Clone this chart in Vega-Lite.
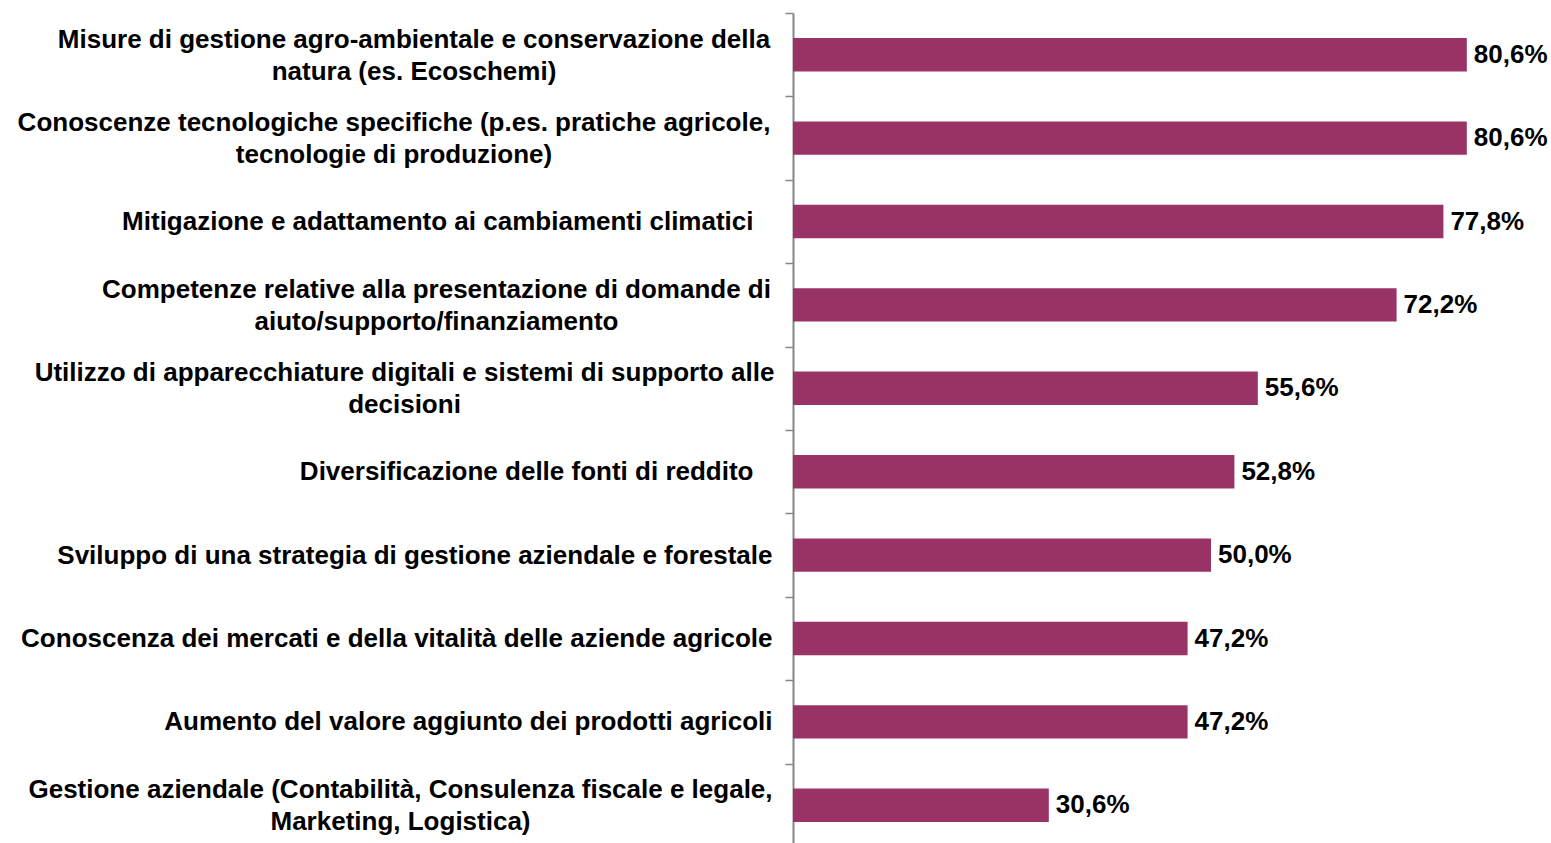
{
  "$schema": "https://vega.github.io/schema/vega-lite/v6.json",
  "autosize": "none",
  "padding": {"left": 793, "top": 13, "right": 0, "bottom": 0},
  "width": 758,
  "height": 830,
  "background": "white",
  "config": {
    "view": {"stroke": null},
    "locale": {"number": {"decimal": ",", "thousands": ".", "grouping": [3], "currency": ["€", ""]}}
  },
  "data": {
    "values": [
      {"voce": "Misure di gestione agro-ambientale e conservazione della\nnatura (es. Ecoschemi)", "quota": 0.806},
      {"voce": "Conoscenze tecnologiche specifiche (p.es. pratiche agricole,\ntecnologie di produzione)", "quota": 0.806},
      {"voce": "Mitigazione e adattamento ai cambiamenti climatici", "quota": 0.778},
      {"voce": "Competenze relative alla presentazione di domande di\naiuto/supporto/finanziamento", "quota": 0.722},
      {"voce": "Utilizzo di apparecchiature digitali e sistemi di supporto alle\ndecisioni", "quota": 0.556},
      {"voce": "Diversificazione delle fonti di reddito", "quota": 0.528},
      {"voce": "Sviluppo di una strategia di gestione aziendale e forestale", "quota": 0.5},
      {"voce": "Conoscenza dei mercati e della vitalità delle aziende agricole", "quota": 0.472},
      {"voce": "Aumento del valore aggiunto dei prodotti agricoli", "quota": 0.472},
      {"voce": "Gestione aziendale (Contabilità, Consulenza fiscale e legale,\nMarketing, Logistica)", "quota": 0.306}
    ]
  },
  "encoding": {
    "y": {
      "field": "voce",
      "type": "nominal",
      "sort": null,
      "scale": {"range": [0, 834], "paddingInner": 0, "paddingOuter": 0},
      "axis": {
        "title": null,
        "domainColor": "#868686",
        "domainWidth": 2,
        "tickColor": "#868686",
        "tickWidth": 1.5,
        "tickSize": 8,
        "tickBand": "extent",
        "labelFont": "Liberation Sans",
        "labelFontWeight": "bold",
        "labelFontSize": 26,
        "labelColor": "black",
        "labelLimit": 0,
        "labelLineHeight": 32,
        "labelBaseline": "middle",
        "labelExpr": "split(datum.label, '\\n')",
        "labelAlign": {"condition": {"test": "indexof(datum.label, '\\n') >= 0", "value": "center"}, "value": "right"},
        "labelOffset": {"condition": {"test": "indexof(datum.label, '\\n') >= 0", "value": -15.5}, "value": 0},
        "labelPadding": {
          "condition": [
            {"test": "indexof(datum.label, 'Misure') === 0", "value": 371.5},
            {"test": "indexof(datum.label, 'Conoscenze tec') === 0", "value": 391.5},
            {"test": "indexof(datum.label, 'Competenze') === 0", "value": 349},
            {"test": "indexof(datum.label, 'Utilizzo') === 0", "value": 381},
            {"test": "indexof(datum.label, 'Gestione') === 0", "value": 385},
            {"test": "indexof(datum.label, 'Mitigazione') === 0 || indexof(datum.label, 'Diversificazione') === 0", "value": 32}
          ],
          "value": 13
        }
      }
    },
    "x": {
      "field": "quota",
      "type": "quantitative",
      "scale": {"domain": [0, 0.9067], "nice": false},
      "axis": null
    }
  },
  "layer": [
    {"mark": {"type": "bar", "color": "#993366", "height": {"band": 0.4}}},
    {
      "mark": {"type": "text", "align": "left", "baseline": "middle", "dx": 7, "font": "Liberation Sans", "fontWeight": "bold", "fontSize": 26, "color": "black"},
      "encoding": {"text": {"field": "quota", "type": "quantitative", "format": ".1%"}}
    }
  ]
}
